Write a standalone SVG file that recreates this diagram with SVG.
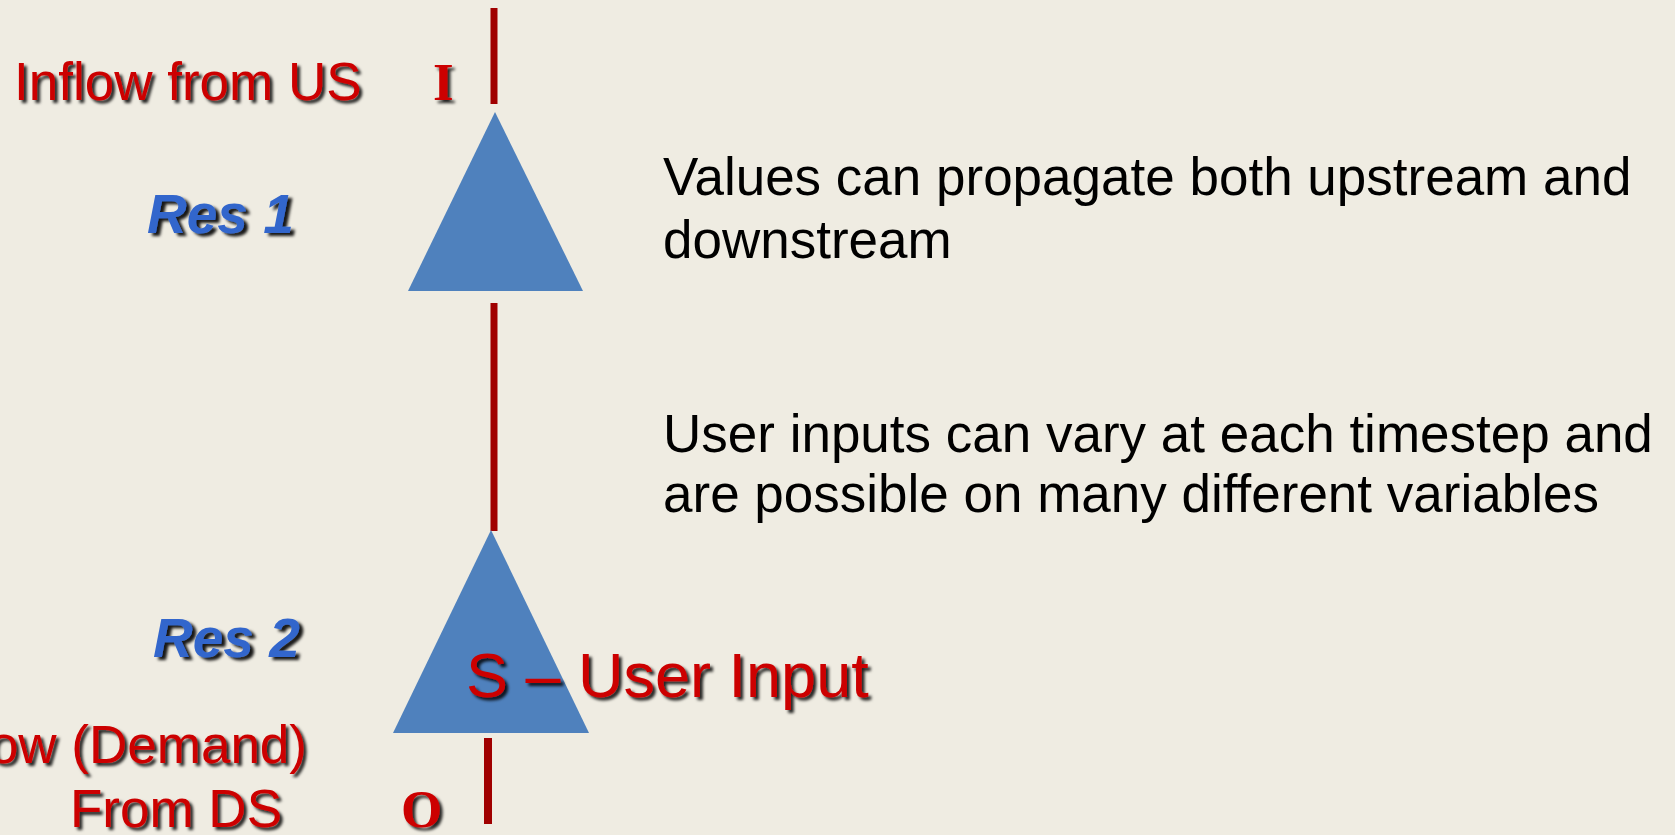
<svg xmlns="http://www.w3.org/2000/svg" width="1675" height="835" viewBox="0 0 1675 835">
  <defs>
    <filter id="shadow" x="-10%" y="-20%" width="130%" height="160%">
      <feDropShadow dx="3" dy="3" stdDeviation="1.5" flood-color="#000000" flood-opacity="0.85"/>
    </filter>
    <filter id="shadowBlue" x="-10%" y="-20%" width="130%" height="160%">
      <feDropShadow dx="4" dy="3" stdDeviation="1.5" flood-color="#000000" flood-opacity="0.9"/>
    </filter>
  </defs>
  <style>
    .bg { fill: #EFECE2; }
    .res { fill: #4F81BD; }
    .link { stroke: #A00000; stroke-linecap: butt; fill: none; }
    .red { font-family: "Liberation Sans", Arial, sans-serif; fill: #CC0000; font-size: 53px; filter: url(#shadow); }
    .big { font-size: 63px; }
    .serif { font-family: "Liberation Serif", "Times New Roman", serif; font-weight: bold; fill: #CC0000; font-size: 53px; filter: url(#shadow); }
    .blue { font-family: "Liberation Sans", Arial, sans-serif; font-weight: bold; font-style: italic; fill: #3366CC; font-size: 55px; filter: url(#shadowBlue); }
    .note { font-family: "Liberation Sans", Arial, sans-serif; fill: #000000; font-size: 53px; }
  </style>
  <rect class="bg" x="0" y="0" width="1675" height="835"/>

  <g id="connectors">
    <line class="link" x1="494" y1="8" x2="494" y2="104" stroke-width="7"/>
    <line class="link" x1="494" y1="303" x2="494" y2="531" stroke-width="7"/>
    <line class="link" x1="488" y1="738" x2="488" y2="824" stroke-width="8"/>
  </g>

  <g id="inflow">
    <text class="red" x="14" y="100">Inflow from US</text>
    <text class="serif" x="433" y="100">I</text>
  </g>

  <g id="res1">
    <polygon class="res" points="495,112 408,291 583,291"/>
    <text class="blue" x="147" y="233">Res 1</text>
  </g>

  <g id="res2">
    <polygon class="res" points="491,530 393,733 589,733"/>
    <text class="blue" x="153" y="657">Res 2</text>
    <text class="red big" x="466" y="697">S – User Input</text>
  </g>

  <g id="outflow">
    <text class="red" x="307" y="763" text-anchor="end">ow (Demand)</text>
    <text class="red" x="70" y="827">From DS</text>
    <text class="serif" x="401" y="827">O</text>
  </g>

  <g id="note1">
    <text class="note" x="663" y="195">Values can propagate both upstream and</text>
    <text class="note" x="663" y="258">downstream</text>
  </g>

  <g id="note2">
    <text class="note" x="663" y="452">User inputs can vary at each timestep and</text>
    <text class="note" x="663" y="512">are possible on many different variables</text>
  </g>
</svg>
